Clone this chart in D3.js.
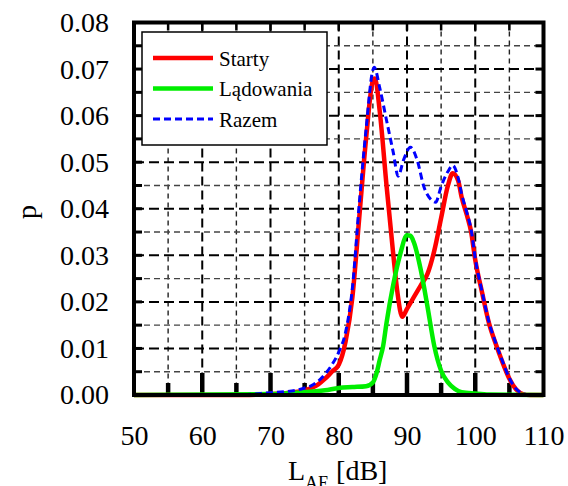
<!DOCTYPE html>
<html>
<head>
<meta charset="utf-8">
<script src="https://cdn.jsdelivr.net/npm/d3@7"></script>
<style>
  body { margin: 0; background: #fff; }
  svg { display: block; }
  .tick-label { font-family: "Liberation Serif", "Times New Roman", serif; font-size: 28px; fill: #000; }
</style>
</head>
<body>
<div class="chart"></div>
<script>
//chart data
var xTicks = [50, 60, 70, 80, 90, 100, 110];
var yTicks = [0, 0.01, 0.02, 0.03, 0.04, 0.05, 0.06, 0.07, 0.08];

var startyX = [50, 60, 66, 70, 72, 74, 75, 76, 77, 78, 79, 80, 81, 82, 83, 84, 85, 85.3, 86, 87, 88, 88.6, 89.3, 90, 91, 92, 93, 94, 95, 96, 96.7, 97.5, 98, 98.8, 99.4, 100, 101, 102, 103, 104, 105, 106, 107, 108, 110];
var startyP = [0, 0, 0, 0.0002, 0.0004, 0.0007, 0.001, 0.0015, 0.0023, 0.0035, 0.005, 0.0065, 0.0115, 0.021, 0.038, 0.055, 0.0675, 0.068, 0.061, 0.045, 0.03, 0.022, 0.0168, 0.0185, 0.021, 0.0235, 0.026, 0.031, 0.038, 0.045, 0.0476, 0.046, 0.0425, 0.0385, 0.035, 0.029, 0.022, 0.0155, 0.011, 0.007, 0.0035, 0.0012, 0.0002, 0, 0];

var ladowaniaX = [50, 70, 74, 78, 80, 82, 84, 85, 85.5, 86, 86.5, 87, 88, 89, 90, 90.5, 91, 92, 93, 94, 95, 96, 97, 98, 100, 102, 110];
var ladowaniaP = [0, 0.0002, 0.0005, 0.001, 0.0015, 0.0017, 0.0019, 0.0027, 0.0045, 0.0075, 0.0105, 0.0155, 0.0238, 0.0302, 0.0343, 0.0342, 0.0328, 0.027, 0.019, 0.0105, 0.0052, 0.0027, 0.0013, 0.0006, 0.0003, 0.0001, 0];

var razemX = [50, 66, 70, 72, 74, 75, 76, 77, 78, 79, 80, 81, 82, 83, 84, 85, 85.2, 86, 87, 88, 88.7, 89.5, 90.5, 91.5, 92.5, 93.5, 94.2, 95, 96, 96.7, 97.5, 98, 98.8, 99.4, 100, 101, 102, 103, 104, 105, 106, 107, 108, 110];
var razemP = [0, 0.0001, 0.0005, 0.0007, 0.0011, 0.0015, 0.002, 0.003, 0.0045, 0.0065, 0.0092, 0.0135, 0.023, 0.041, 0.057, 0.0698, 0.0704, 0.066, 0.059, 0.052, 0.047, 0.0505, 0.0532, 0.0504, 0.0446, 0.042, 0.0414, 0.0448, 0.048, 0.0493, 0.0466, 0.0432, 0.039, 0.0355, 0.0293, 0.0222, 0.0157, 0.0112, 0.0072, 0.0036, 0.0013, 0.0003, 0, 0];

var legendNames = ["Starty", "Lądowania", "Razem"];

//set global sizes
var width = 568,
    height = 486;

var svg = d3.select(".chart").append("svg")
            .attr("width", width)
            .attr("height", height);

//scales
var xScale = d3.scaleLinear().domain([50, 110]).range([134, 543.5]);
var yScale = d3.scaleLinear().domain([0, 0.08]).range([395, 22.5]);

var majorX = d3.range(60, 101, 10),
    minorX = d3.range(55, 106, 10),
    majorY = d3.range(1, 8).map(function(d) { return d / 100; }),
    minorY = d3.range(0, 8).map(function(d) { return d / 100 + 0.005; });

var grid = svg.append("g").attr("class", "grid");

//vertical grid lines
grid.selectAll(".vmaj").data(majorX).enter().append("line")
    .attr("x1", function(d) { return xScale(d); })
    .attr("x2", function(d) { return xScale(d); })
    .attr("y1", yScale(0.08)).attr("y2", yScale(0))
    .attr("stroke", "#000").attr("stroke-width", 2)
    .attr("stroke-dasharray", "9,5");
grid.selectAll(".vmin").data(minorX).enter().append("line")
    .attr("x1", function(d) { return xScale(d); })
    .attr("x2", function(d) { return xScale(d); })
    .attr("y1", yScale(0.08)).attr("y2", yScale(0))
    .attr("stroke", "#222").attr("stroke-width", 1.4)
    .attr("stroke-dasharray", "5,4");

//horizontal grid lines
grid.selectAll(".hmaj").data(majorY).enter().append("line")
    .attr("x1", xScale(50)).attr("x2", xScale(110))
    .attr("y1", function(d) { return yScale(d); })
    .attr("y2", function(d) { return yScale(d); })
    .attr("stroke", "#000").attr("stroke-width", 2)
    .attr("stroke-dasharray", "10,5");
grid.selectAll(".hmin").data(minorY).enter().append("line")
    .attr("x1", xScale(50)).attr("x2", xScale(110))
    .attr("y1", function(d) { return yScale(d); })
    .attr("y2", function(d) { return yScale(d); })
    .attr("stroke", "#444").attr("stroke-width", 1.4)
    .attr("stroke-dasharray", "6,4");

//inner ticks on the frame
var ticks = svg.append("g").attr("class", "ticks");
majorX.forEach(function(d) {
  ticks.append("line").attr("x1", xScale(d)).attr("x2", xScale(d))
       .attr("y1", yScale(0)).attr("y2", yScale(0) - 22)
       .attr("stroke", "#000").attr("stroke-width", 4.5);
});
minorX.forEach(function(d) {
  ticks.append("line").attr("x1", xScale(d)).attr("x2", xScale(d))
       .attr("y1", yScale(0)).attr("y2", yScale(0) - 12)
       .attr("stroke", "#000").attr("stroke-width", 4.5);
});
majorX.concat(minorX).forEach(function(d) {
  ticks.append("line").attr("x1", xScale(d)).attr("x2", xScale(d))
       .attr("y1", yScale(0.08)).attr("y2", yScale(0.08) + 8)
       .attr("stroke", "#000").attr("stroke-width", 2.5);
});
majorY.concat(minorY).forEach(function(d) {
  ticks.append("line").attr("x1", xScale(50)).attr("x2", xScale(50) + 8)
       .attr("y1", yScale(d)).attr("y2", yScale(d))
       .attr("stroke", "#000").attr("stroke-width", 3);
  ticks.append("line").attr("x1", xScale(110)).attr("x2", xScale(110) - 8)
       .attr("y1", yScale(d)).attr("y2", yScale(d))
       .attr("stroke", "#000").attr("stroke-width", 3);
});

//curves
var line = d3.line()
             .x(function(d) { return xScale(d[0]); })
             .y(function(d) { return yScale(d[1]); })
             .curve(d3.curveMonotoneX);

function pairs(xs, ys) {
  return xs.map(function(x, i) { return [x, ys[i]]; });
}

svg.append("path").attr("d", line(pairs(startyX, startyP)))
   .attr("fill", "none").attr("stroke", "#ff0000").attr("stroke-width", 4.5)
   .attr("stroke-linejoin", "round");
svg.append("path").attr("d", line(pairs(ladowaniaX, ladowaniaP)))
   .attr("fill", "none").attr("stroke", "#00ee00").attr("stroke-width", 4.5)
   .attr("stroke-linejoin", "round");
svg.append("path").attr("d", line(pairs(razemX, razemP)))
   .attr("fill", "none").attr("stroke", "#0000ff").attr("stroke-width", 3)
   .attr("stroke-dasharray", "7,4");

//frame
svg.append("rect")
   .attr("x", xScale(50)).attr("y", yScale(0.08))
   .attr("width", xScale(110) - xScale(50))
   .attr("height", yScale(0) - yScale(0.08))
   .attr("fill", "none").attr("stroke", "#000").attr("stroke-width", 4);

//axis labels via d3 axes
var xAxis = d3.axisBottom(xScale).tickValues(xTicks).tickSize(0).tickPadding(30)
              .tickFormat(d3.format("d"));
var xAxisGroup = svg.append("g").attr("transform", "translate(0," + yScale(0) + ")").call(xAxis);
xAxisGroup.select(".domain").remove();
xAxisGroup.selectAll("text").attr("class", "tick-label").attr("font-size", null).attr("font-family", null);
xAxisGroup.attr("font-size", null).attr("font-family", null);

var yAxis = d3.axisLeft(yScale).tickValues(yTicks).tickSize(0).tickPadding(25)
              .tickFormat(d3.format(".2f"));
var yAxisGroup = svg.append("g").attr("transform", "translate(" + xScale(50) + ",0)").call(yAxis);
yAxisGroup.select(".domain").remove();
yAxisGroup.selectAll("text").attr("class", "tick-label");
yAxisGroup.attr("font-size", null).attr("font-family", null);

//axis titles
svg.append("text")
   .attr("transform", "translate(36,212) rotate(-90)")
   .attr("text-anchor", "middle")
   .attr("class", "tick-label")
   .text("p");

var xTitle = svg.append("text")
   .attr("x", 288).attr("y", 480)
   .attr("class", "tick-label");
xTitle.append("tspan").text("L");
xTitle.append("tspan").attr("font-size", "18px").attr("dy", 9).text("AE");
xTitle.append("tspan").attr("dy", -9).text(" [dB]");

//legend
var legend = svg.append("g").attr("class", "legend");
legend.append("rect")
      .attr("x", 142).attr("y", 32).attr("width", 185).attr("height", 113)
      .attr("fill", "#fff").attr("stroke", "#000").attr("stroke-width", 1.5);
var legendColors = ["#ff0000", "#00ee00", "#0000ff"];
legendNames.forEach(function(name, i) {
  var ly = 58 + i * 30.5;
  legend.append("line")
        .attr("x1", 153).attr("x2", 213).attr("y1", ly).attr("y2", ly)
        .attr("stroke", legendColors[i])
        .attr("stroke-width", i == 2 ? 3 : 4.5)
        .attr("stroke-dasharray", i == 2 ? "7,4" : null);
  legend.append("text")
        .attr("x", 219).attr("y", ly + 7.5)
        .style("font-family", "'Liberation Serif', 'Times New Roman', serif")
        .style("font-size", "21px")
        .text(name);
});
</script>
</body>
</html>
